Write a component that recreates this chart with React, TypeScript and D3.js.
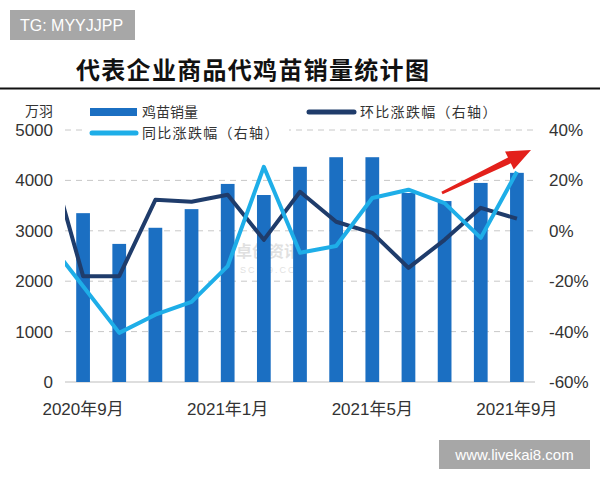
import React from 'react';
import * as d3 from 'd3';

const months = ['2020年9月','2020年10月','2020年11月','2020年12月','2021年1月','2021年2月','2021年3月','2021年4月','2021年5月','2021年6月','2021年7月','2021年8月','2021年9月'];
const tickMonths = ['2020年9月','2021年1月','2021年5月','2021年9月'];
const sales = [3350, 2740, 3060, 3430, 3930, 3710, 4270, 4460, 4460, 3750, 3590, 3950, 4150];
// 环比 (month-on-month), with the preceding month (Aug 2020) which is clipped at the left edge
const momPrev = 33;
const mom = [-18, -18, 12.3, 11.5, 14.3, -3.6, 15.5, 3.6, -0.8, -14.7, -3.6, 9.1, 4.8];
// 同比 (year-on-year)
const yoyPrev = -3.6;
const yoy = [-22, -40.5, -33.3, -28.2, -14, 25.4, -8.7, -6, 13, 16.3, 11, -2.8, 23.4];
const leftTicks = [0, 1000, 2000, 3000, 4000, 5000];
const rightTicks = [-60, -40, -20, 0, 20, 40];

const BAR = '#1b6fc2';
const NAVY = '#1f3c6b';
const LIGHT = '#1eaee8';
const TXT = '#333';

export default function App() {
  const L = 65, R = 535, T = 130, B = 382;
  const x = d3.scaleBand<string>().domain(months).range([L, R]).paddingInner(0.62).paddingOuter(0.31);
  const step = x.step();
  const cx = (i: number) => (x(months[i]) as number) + x.bandwidth() / 2;
  const yL = d3.scaleLinear().domain([0, 5000]).range([B, T]);
  const yR = d3.scaleLinear().domain([-60, 40]).range([B, T]);

  const linePts = (prev: number, vals: number[]) => {
    const pts: [number, number][] = [[cx(0) - step, yR(prev)]];
    vals.forEach((v, i) => pts.push([cx(i), yR(v)]));
    return d3.line()(pts) as string;
  };

  // red arrow annotation
  const ax0 = 442, ay0 = 193, ax1 = 531, ay1 = 150;
  const dx = ax1 - ax0, dy = ay1 - ay0, len = Math.hypot(dx, dy);
  const ux = dx / len, uy = dy / len, nx = -uy, ny = ux;
  const headL = 24, headW = 10, tailW = 1.5, neckW = 3.2;
  const bx = ax1 - ux * headL, by = ay1 - uy * headL;
  const arrow = [
    [ax0 + nx * tailW, ay0 + ny * tailW],
    [bx + nx * neckW, by + ny * neckW],
    [bx + nx * headW, by + ny * headW],
    [ax1, ay1],
    [bx - nx * headW, by - ny * headW],
    [bx - nx * neckW, by - ny * neckW],
    [ax0 - nx * tailW, ay0 - ny * tailW],
  ].map(p => p.join(',')).join(' ');

  const font = '"Liberation Sans", Arial, "Noto Sans CJK SC", sans-serif';
  const cjk = '"Noto Sans CJK SC", "Liberation Sans", sans-serif';

  return (
    <div style={{ position: 'absolute', left: 0, top: 0 }}>
      <svg width={600} height={480} style={{ display: 'block', background: '#fff' }}>
        <defs>
          <clipPath id="plotClip">
            <rect x={L} y={0} width={R - L} height={480} />
          </clipPath>
        </defs>
        {/* top watermark box */}
        <rect x={10} y={10} width={125} height={30} fill="#a7a7a7" />
        <text x={20} y={31} fontFamily={font} fontSize={16} fill="#fff">TG: MYYJJPP</text>

        {/* title */}
        <text x={76} y={79} fontFamily={cjk} fontWeight={700} fontSize={24} letterSpacing={1.3} fill="#111">代表企业商品代鸡苗销量统计图</text>
        <line x1={0} x2={600} y1={88.5} y2={88.5} stroke="#111" strokeWidth={2} />

        {/* gridlines */}
        {leftTicks.filter(t => t > 0).map(t => (
          <line key={t} x1={L} x2={R} y1={yL(t)} y2={yL(t)} stroke="#c8c8c8" strokeWidth={1} strokeDasharray="6,5" />
        ))}
        <line x1={L} x2={R} y1={B} y2={B} stroke="#bdbdbd" strokeWidth={1.2} />

        {/* faint source watermark */}
        <g opacity={0.25} fill="#888">
          <text x={236} y={257} fontFamily={cjk} fontSize={16} fontWeight={700}>卓创资讯</text>
          <text x={240} y={273} fontFamily={font} fontSize={9} letterSpacing={2}>SCI99.COM</text>
        </g>

        {/* bars */}
        {sales.map((v, i) => (
          <rect key={i} x={x(months[i])} y={yL(v)} width={x.bandwidth()} height={B - yL(v)} fill={BAR} />
        ))}

        {/* lines */}
        <g clipPath="url(#plotClip)">
          <path d={linePts(momPrev, mom)} fill="none" stroke={NAVY} strokeWidth={4} strokeLinejoin="round" />
          <path d={linePts(yoyPrev, yoy)} fill="none" stroke={LIGHT} strokeWidth={4} strokeLinejoin="round" />
        </g>

        {/* arrow */}
        <polygon points={arrow} fill="#e3201b" />

        {/* left axis */}
        <text x={25} y={116} fontFamily={cjk} fontSize={14} fill={TXT}>万羽</text>
        {leftTicks.map(t => (
          <text key={t} x={53} y={yL(t) + 6} textAnchor="end" fontFamily={font} fontSize={17} fill={TXT}>{t}</text>
        ))}
        {/* right axis */}
        {rightTicks.map(t => (
          <text key={t} x={549} y={yR(t) + 6} fontFamily={font} fontSize={17} fill={TXT}>{`${t}%`}</text>
        ))}
        {/* x labels */}
        {tickMonths.map(m => (
          <text key={m} x={(x(m) as number) + x.bandwidth() / 2} y={415} textAnchor="middle" fontFamily={font} fontSize={17} fill={TXT}>{m}</text>
        ))}

        {/* legend */}
        <rect x={84} y={100} width={420} height={22} fill="#fff" />
        <rect x={84} y={122} width={205} height={20} fill="#fff" />
        <rect x={90} y={108} width={47} height={8} fill={BAR} />
        <text x={142} y={117} fontFamily={cjk} fontSize={14} fill={TXT}>鸡苗销量</text>
        <line x1={309} x2={354} y1={112} y2={112} stroke={NAVY} strokeWidth={5} strokeLinecap="round" />
        <text x={360} y={117} fontFamily={cjk} fontSize={14} letterSpacing={1.3} fill={TXT}>环比涨跌幅（右轴）</text>
        <line x1={92} x2={136} y1={133} y2={133} stroke={LIGHT} strokeWidth={5} strokeLinecap="round" />
        <text x={142} y={138} fontFamily={cjk} fontSize={14} letterSpacing={1.3} fill={TXT}>同比涨跌幅（右轴）</text>

        {/* bottom watermark */}
        <rect x={439} y={440} width={151} height={29} fill="#a7a7a7" />
        <text x={514.5} y={460} textAnchor="middle" fontFamily={font} fontSize={15} fill="#fff">www.livekai8.com</text>
      </svg>
    </div>
  );
}
